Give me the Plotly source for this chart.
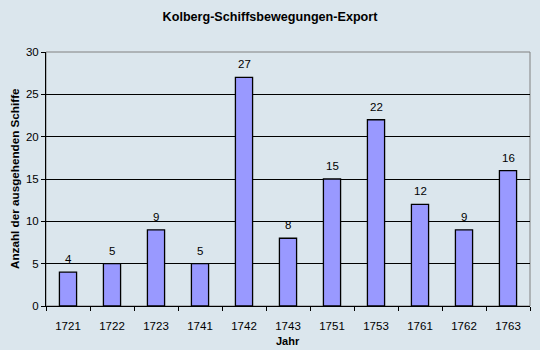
import plotly.graph_objects as go

years = ["1721", "1722", "1723", "1741", "1742", "1743", "1751", "1753", "1761", "1762", "1763"]
ships = [4, 5, 9, 5, 27, 8, 15, 22, 12, 9, 16]
y_ticks = [0, 5, 10, 15, 20, 25, 30]

bg = "#dbe6ed"
font = "Liberation Sans, Arial, sans-serif"
W, H = 540, 350
ML, MR, MT, MB = 46, 10, 52, 44

fig = go.Figure(go.Bar(
    x=years, y=ships,
    marker=dict(color="#9999ff", line=dict(color="black", width=1.3)),
    width=0.39,
))

for i, v in enumerate(ships):
    fig.add_annotation(x=i, y=v, text=str(v), showarrow=False, yanchor="middle",
                       yshift=13, font=dict(size=11.5, color="black", family=font))

# axis titles
fig.add_annotation(xref="paper", yref="paper", x=0.5, y=-(341 - (H - MB)) / (H - MT - MB),
                   text="<b>Jahr</b>", showarrow=False, xanchor="center", yanchor="middle",
                   font=dict(size=11, color="black", family=font))
fig.add_annotation(xref="paper", yref="paper", x=-(ML - 14) / (W - ML - MR), y=0.5,
                   text="<b>Anzahl der ausgehenden Schiffe</b>", showarrow=False, textangle=-90,
                   xanchor="center", yanchor="middle",
                   font=dict(size=11.7, color="black", family=font))

fig.update_layout(
    width=W, height=H,
    margin=dict(l=ML, r=MR, t=MT, b=MB),
    paper_bgcolor=bg, plot_bgcolor=bg,
    font=dict(family=font, size=11, color="black"),
    title=dict(text="<b>Kolberg-Schiffsbewegungen-Export</b>", x=0.5, xanchor="center",
               y=1 - 17 / H, yanchor="middle", font=dict(size=12.6, family=font)),
    showlegend=False,
    shapes=[dict(type="rect", xref="paper", yref="paper", x0=0, x1=1, y0=0, y1=1,
                 line=dict(color="#808080", width=1), layer="below")],
)
fig.update_xaxes(
    type="category", categoryorder="array", categoryarray=years,
    range=[-0.5, len(years) - 0.5], automargin=False,
    showline=True, linecolor="black", linewidth=1,
    ticks="outside", tickson="boundaries", ticklen=4, tickcolor="black",
    showgrid=False, ticklabelstandoff=9, tickfont=dict(size=11.5),
)
fig.update_yaxes(
    range=[0, 30], tickvals=y_ticks, automargin=False,
    showline=True, linecolor="black", linewidth=1,
    ticks="outside", ticklen=4, tickcolor="black", tickfont=dict(size=11.5),
    showgrid=True, gridcolor="black", gridwidth=1, zeroline=False,
)

fig.write_html("out.html")
